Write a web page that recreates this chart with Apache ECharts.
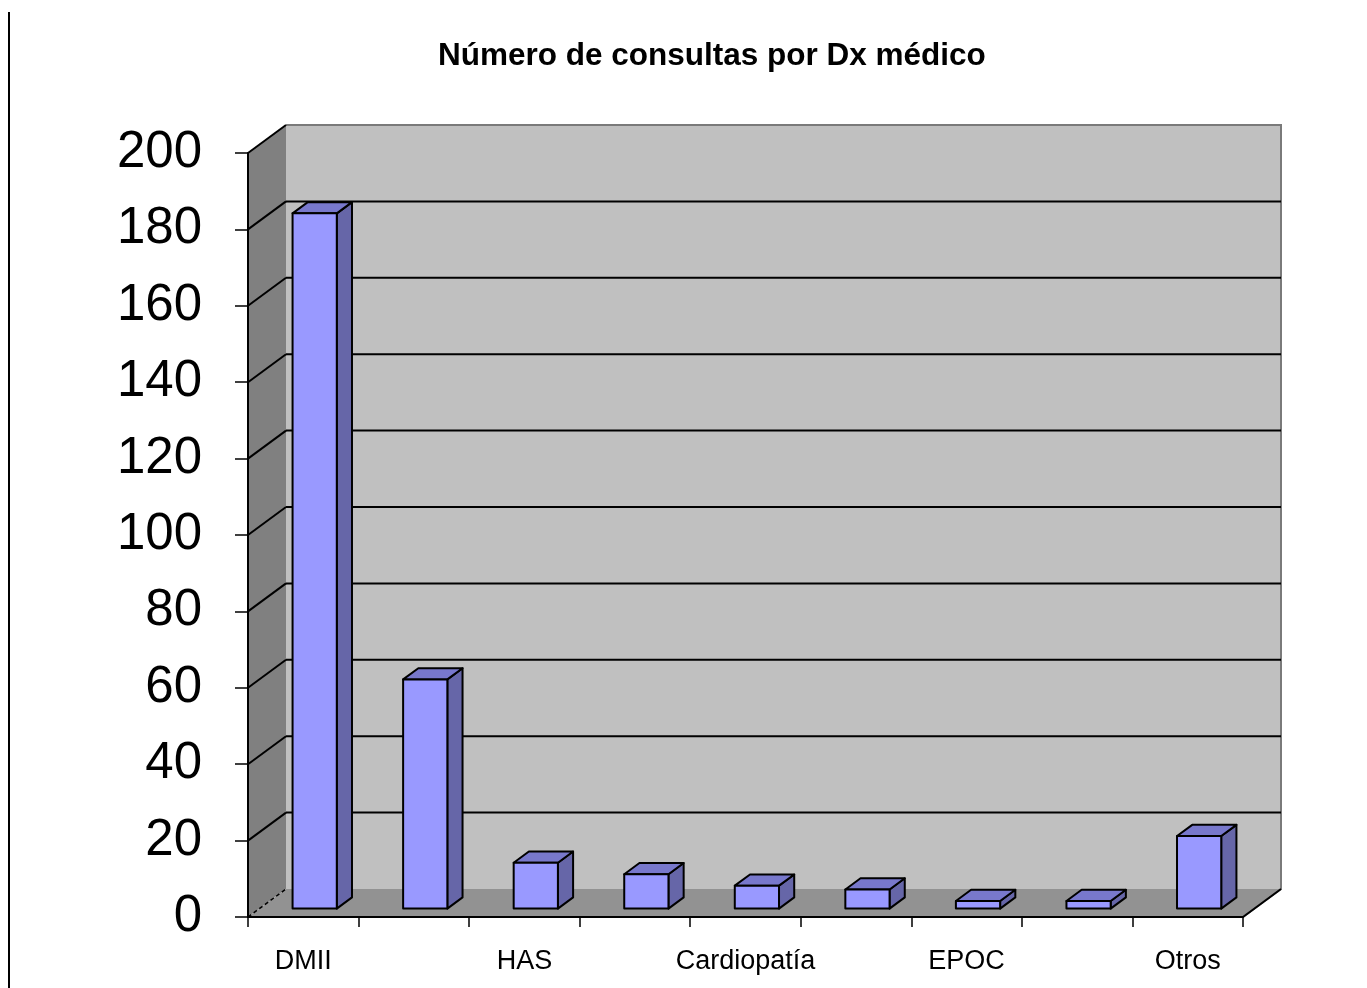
<!DOCTYPE html>
<html>
<head>
<meta charset="utf-8">
<script src="https://cdn.jsdelivr.net/npm/echarts@6/dist/echarts.min.js"></script>
<style>
  html, body { margin: 0; padding: 0; background: #fff; }
  #chart { width: 1367px; height: 988px; }
</style>
</head>
<body>
<div id="chart"></div>
<script>
// data
const categories = ['DMII', 'Dx 2', 'HAS', 'Dx 4', 'Cardiopatía', 'Dx 6', 'EPOC', 'Dx 8', 'Otros'];
const consultas = [182, 60, 12, 9, 6, 5, 2, 2, 19];
const yTicks = [0, 20, 40, 60, 80, 100, 120, 140, 160, 180, 200];

// 3d depth offset of the walls (pixels)
const DX = 38, DY = -28;
const FONT = '"Liberation Sans", Arial, sans-serif';

const chart = echarts.init(document.getElementById('chart'));

function renderWalls(params, api) {
    const cs = params.coordSys;
    const gx = cs.x, gy = cs.y, gw = cs.width, gh = cs.height;
    const y0 = gy + gh;
    const children = [];
    // back wall
    children.push({
        type: 'rect',
        shape: { x: gx + DX, y: gy + DY, width: gw, height: gh },
        style: { fill: '#c0c0c0', stroke: null }
    });
    // left side wall
    children.push({
        type: 'polygon',
        shape: { points: [[gx, gy], [gx + DX, gy + DY], [gx + DX, y0 + DY], [gx, y0]] },
        style: { fill: '#808080', stroke: null }
    });
    // floor
    children.push({
        type: 'polygon',
        shape: { points: [[gx, y0], [gx + DX, y0 + DY], [gx + gw + DX, y0 + DY], [gx + gw, y0]] },
        style: { fill: '#929292', stroke: null }
    });
    // back wall edges
    children.push({
        type: 'polyline',
        shape: { points: [[gx + DX, gy + DY], [gx + gw + DX, gy + DY], [gx + gw + DX, y0 + DY], [gx + gw, y0]] },
        style: { stroke: '#7a7a7a', lineWidth: 2, fill: null }
    });
    children.push({
        type: 'line',
        shape: { x1: gx + gw + DX, y1: y0 + DY, x2: gx + gw, y2: y0 },
        style: { stroke: '#000', lineWidth: 2 }
    });
    yTicks.forEach(function (v) {
        const y = api.coord([0, v])[1];
        if (v > 0 && v < 200) {
            children.push({
                type: 'line',
                shape: { x1: gx + DX, y1: y + DY, x2: gx + gw + DX, y2: y + DY },
                style: { stroke: '#000', lineWidth: 2 }
            });
        }
        children.push({
            type: 'line',
            shape: { x1: gx, y1: y, x2: gx + DX, y2: y + DY },
            style: { stroke: '#000', lineWidth: v === 0 ? 1.5 : 2, lineDash: v === 0 ? [4, 3] : null }
        });
    });
    return { type: 'group', children: children };
}

function renderBar(params, api) {
    const i = api.value(0), v = api.value(1);
    const base = api.coord([i, 0]);
    const top = api.coord([i, v]);
    const w = api.size([1, 0])[0] * 0.4;
    const f0 = 0.3, f1 = 0.7;
    const x0 = base[0] - w / 2 + DX * f0;
    const yb = base[1] + DY * f0;
    const yt = top[1] + DY * f0;
    const ddx = DX * (f1 - f0), ddy = DY * (f1 - f0);
    const line = { stroke: '#000', lineWidth: 2, lineJoin: 'round' };
    return {
        type: 'group',
        children: [
            {
                type: 'polygon',
                shape: { points: [[x0 + w, yt], [x0 + w + ddx, yt + ddy], [x0 + w + ddx, yb + ddy], [x0 + w, yb]] },
                style: Object.assign({ fill: '#6666a8' }, line)
            },
            {
                type: 'polygon',
                shape: { points: [[x0, yt], [x0 + ddx, yt + ddy], [x0 + w + ddx, yt + ddy], [x0 + w, yt]] },
                style: Object.assign({ fill: '#7878cc' }, line)
            },
            {
                type: 'rect',
                shape: { x: x0, y: yt, width: w, height: yb - yt },
                style: Object.assign({ fill: '#9999ff' }, line)
            }
        ]
    };
}

chart.setOption({
    backgroundColor: '#fff',
    animation: false,
    title: {
        text: 'Número de consultas por Dx médico',
        left: 433,
        top: 35,
        textStyle: { fontFamily: FONT, fontSize: 31.5, fontWeight: 'bold', color: '#000' }
    },
    grid: { left: 248, right: 124, top: 153, bottom: 71 },
    xAxis: {
        type: 'category',
        data: categories,
        z: 5,
        axisLine: { lineStyle: { color: '#000', width: 2 } },
        axisTick: { show: true, interval: 0, length: 10, lineStyle: { color: '#000', width: 1.5 } },
        axisLabel: { interval: 1, margin: 31, fontFamily: FONT, fontSize: 27, color: '#000' },
        splitLine: { show: false }
    },
    yAxis: {
        type: 'value',
        min: 0,
        max: 200,
        interval: 20,
        z: 5,
        axisLine: { show: true, lineStyle: { color: '#000', width: 2 } },
        axisTick: { show: true, length: 13, lineStyle: { color: '#000', width: 1.5 } },
        axisLabel: { margin: 46, fontFamily: FONT, fontSize: 51, color: '#000' },
        splitLine: { show: false }
    },
    graphic: [{
        type: 'line',
        shape: { x1: 9, y1: 12, x2: 9, y2: 988 },
        style: { stroke: '#000', lineWidth: 2 }
    }],
    series: [
        {
            type: 'custom',
            z: 1,
            silent: true,
            clip: false,
            renderItem: renderWalls,
            data: [[0, 0]]
        },
        {
            type: 'custom',
            name: 'Consultas',
            z: 3,
            clip: false,
            renderItem: renderBar,
            encode: { x: 0, y: 1 },
            data: consultas.map(function (v, i) { return [i, v]; })
        }
    ]
});
</script>
</body>
</html>
